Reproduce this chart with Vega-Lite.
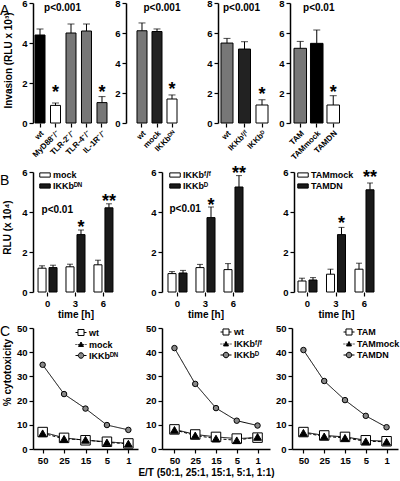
{
  "$schema": "https://vega.github.io/schema/vega-lite/v6.json",
  "padding": {"top": -2, "left": 0, "right": 0, "bottom": 0},
  "autosize": {"type": "pad"},
  "background": "white",
  "spacing": 3,
  "resolve": {
    "scale": {"fill": "independent", "shape": "independent", "size": "independent", "strokeDash": "independent", "xOffset": "independent", "stroke": "independent"},
    "legend": {"fill": "independent", "shape": "independent", "stroke": "independent"}
  },
  "datasets": {
    "a1": [
      {"cat": "wt", "v": 4.4, "hi": 4.7},
      {"cat": "MyD88⁻/⁻", "v": 0.88, "hi": 1.0},
      {"cat": "TLR-2⁻/⁻", "v": 4.5, "hi": 4.95},
      {"cat": "TLR-4⁻/⁻", "v": 4.6, "hi": 4.95},
      {"cat": "IL-1R⁻/⁻", "v": 1.02, "hi": 1.32}
    ],
    "a1n": [{"cat": "MyD88⁻/⁻", "y": 1.7, "label": "*"}, {"cat": "IL-1R⁻/⁻", "y": 1.7, "label": "*"}],
    "a1p": [{"cat": "MyD88⁻/⁻", "y": 5.75, "label": "p<0.001"}],
    "a2": [
      {"cat": "wt", "v": 6.15, "hi": 6.67},
      {"cat": "mock", "v": 6.1, "hi": 6.27},
      {"cat": "IKKbᴰᴺ", "v": 1.6, "hi": 1.87}
    ],
    "a2n": [{"cat": "IKKbᴰᴺ", "y": 2.45, "label": "*"}],
    "a2p": [{"cat": "mock", "y": 7.65, "label": "p<0.001"}],
    "a3": [
      {"cat": "wt", "v": 5.33, "hi": 5.64},
      {"cat": "IKKbᶠ/ᶠ", "v": 4.93, "hi": 5.42},
      {"cat": "IKKbᴰ", "v": 1.2, "hi": 1.55}
    ],
    "a3n": [{"cat": "IKKbᴰ", "y": 2.15, "label": "*"}],
    "a3p": [{"cat": "IKKbᶠ/ᶠ", "y": 7.65, "label": "p<0.001"}],
    "a4": [
      {"cat": "TAM", "v": 4.98, "hi": 5.44},
      {"cat": "TAMmock", "v": 5.31, "hi": 6.2},
      {"cat": "TAMDN", "v": 1.2, "hi": 1.82}
    ],
    "a4n": [{"cat": "TAMDN", "y": 2.3, "label": "*"}],
    "a4p": [{"cat": "TAMmock", "y": 7.65, "label": "p<0.01"}],
    "b1": [
      {"t": "0", "s": "mock", "v": 1.19, "hi": 1.31},
      {"t": "0", "s": "IKKbᴰᴺ", "v": 1.22, "hi": 1.34},
      {"t": "3", "s": "mock", "v": 1.26, "hi": 1.39},
      {"t": "3", "s": "IKKbᴰᴺ", "v": 2.87, "hi": 3.1},
      {"t": "6", "s": "mock", "v": 1.36, "hi": 1.59},
      {"t": "6", "s": "IKKbᴰᴺ", "v": 4.21, "hi": 4.41}
    ],
    "b1n": [{"t": "3", "s": "IKKbᴰᴺ", "y": 3.4, "label": "*"}, {"t": "6", "s": "IKKbᴰᴺ", "y": 4.69, "label": "**"}],
    "b1p": [{"t": "0", "y": 4.08, "label": "p<0.01"}],
    "b2": [
      {"t": "0", "s": "IKKbᶠ/ᶠ", "v": 0.92, "hi": 1.02},
      {"t": "0", "s": "IKKbᴰ", "v": 0.95, "hi": 1.08},
      {"t": "3", "s": "IKKbᶠ/ᶠ", "v": 1.22, "hi": 1.38},
      {"t": "3", "s": "IKKbᴰ", "v": 3.72, "hi": 4.25},
      {"t": "6", "s": "IKKbᶠ/ᶠ", "v": 1.12, "hi": 1.42},
      {"t": "6", "s": "IKKbᴰ", "v": 5.25, "hi": 5.82}
    ],
    "b2n": [{"t": "3", "s": "IKKbᴰ", "y": 4.52, "label": "*"}, {"t": "6", "s": "IKKbᴰ", "y": 6.1, "label": "**"}],
    "b2p": [{"t": "0", "y": 4.15, "label": "p<0.01"}],
    "b3": [
      {"t": "0", "s": "TAMmock", "v": 0.55, "hi": 0.69},
      {"t": "0", "s": "TAMDN", "v": 0.6, "hi": 0.72},
      {"t": "3", "s": "TAMmock", "v": 0.89, "hi": 1.14},
      {"t": "3", "s": "TAMDN", "v": 2.87, "hi": 3.23},
      {"t": "6", "s": "TAMmock", "v": 1.14, "hi": 1.44},
      {"t": "6", "s": "TAMDN", "v": 5.11, "hi": 5.45}
    ],
    "b3n": [{"t": "3", "s": "TAMDN", "y": 3.6, "label": "*"}, {"t": "6", "s": "TAMDN", "y": 5.9, "label": "**"}],
    "c1": [
      {"r": "50", "s": "wt", "v": 7.0}, {"r": "25", "s": "wt", "v": 4.6}, {"r": "15", "s": "wt", "v": 3.6}, {"r": "5", "s": "wt", "v": 3.0}, {"r": "1", "s": "wt", "v": 2.3},
      {"r": "50", "s": "mock", "v": 6.5}, {"r": "25", "s": "mock", "v": 4.2}, {"r": "15", "s": "mock", "v": 3.8}, {"r": "5", "s": "mock", "v": 2.7}, {"r": "1", "s": "mock", "v": 2.2},
      {"r": "50", "s": "IKKbᴰᴺ", "v": 34.8}, {"r": "25", "s": "IKKbᴰᴺ", "v": 22.7}, {"r": "15", "s": "IKKbᴰᴺ", "v": 16.7}, {"r": "5", "s": "IKKbᴰᴺ", "v": 9.9}, {"r": "1", "s": "IKKbᴰᴺ", "v": 7.9}
    ],
    "c2": [
      {"r": "50", "s": "wt", "v": 8.1}, {"r": "25", "s": "wt", "v": 6.0}, {"r": "15", "s": "wt", "v": 5.0}, {"r": "5", "s": "wt", "v": 4.3}, {"r": "1", "s": "wt", "v": 4.7},
      {"r": "50", "s": "IKKbᶠ/ᶠ", "v": 7.9}, {"r": "25", "s": "IKKbᶠ/ᶠ", "v": 5.6}, {"r": "15", "s": "IKKbᶠ/ᶠ", "v": 4.3}, {"r": "5", "s": "IKKbᶠ/ᶠ", "v": 3.6}, {"r": "1", "s": "IKKbᶠ/ᶠ", "v": 5.0},
      {"r": "50", "s": "IKKbᴰ", "v": 41.7}, {"r": "25", "s": "IKKbᴰ", "v": 26.9}, {"r": "15", "s": "IKKbᴰ", "v": 16.9}, {"r": "5", "s": "IKKbᴰ", "v": 11.7}, {"r": "1", "s": "IKKbᴰ", "v": 9.7}
    ],
    "c3": [
      {"r": "50", "s": "TAM", "v": 7.0}, {"r": "25", "s": "TAM", "v": 5.6}, {"r": "15", "s": "TAM", "v": 5.0}, {"r": "5", "s": "TAM", "v": 3.6}, {"r": "1", "s": "TAM", "v": 3.2},
      {"r": "50", "s": "TAMmock", "v": 6.7}, {"r": "25", "s": "TAMmock", "v": 5.2}, {"r": "15", "s": "TAMmock", "v": 4.6}, {"r": "5", "s": "TAMmock", "v": 3.2}, {"r": "1", "s": "TAMmock", "v": 3.0},
      {"r": "50", "s": "TAMDN", "v": 40.9}, {"r": "25", "s": "TAMDN", "v": 28.1}, {"r": "15", "s": "TAMDN", "v": 20.2}, {"r": "5", "s": "TAMDN", "v": 13.7}, {"r": "1", "s": "TAMDN", "v": 9.0}
    ]
  },
  "vconcat": [
    {
      "bounds": "flush",
      "spacing": 16,
      "resolve": {"scale": {"fill": "independent"}, "legend": {"fill": "independent"}},
      "hconcat": [
        {
          "width": 77, "height": 120,
          "title": {"text": "A", "dy": 1, "offset": -19},
          "layer": [
            {"data": {"name": "a1"}, "mark": {"type": "bar", "stroke": "#000", "strokeWidth": 1},
             "encoding": {
               "x": {"field": "cat", "type": "nominal", "title": null, "scale": {"domain": ["wt", "MyD88⁻/⁻", "TLR-2⁻/⁻", "TLR-4⁻/⁻", "IL-1R⁻/⁻"], "range": [0, 76], "paddingInner": 0.355, "paddingOuter": 0.13}, "axis": {"labelAngle": -45, "domain": false, "labelFontSize": 8}},
               "y": {"field": "v", "type": "quantitative", "title": "Invasion (RLU x 10³)", "scale": {"domain": [0, 6]}, "axis": {"values": [0, 2, 4, 6], "tickCount": 4, "labelOverlap": false, "titleY": 57, "titlePadding": 8}},
               "fill": {"field": "cat", "type": "nominal", "scale": {"domain": ["wt", "MyD88⁻/⁻", "TLR-2⁻/⁻", "TLR-4⁻/⁻", "IL-1R⁻/⁻"], "range": ["#000000", "#ffffff", "#777777", "#777777", "#777777"]}, "legend": null}
             }},
            {"data": {"name": "a1"}, "mark": {"type": "rule", "color": "#000", "strokeWidth": 1},
             "encoding": {"x": {"field": "cat", "type": "nominal", "title": null}, "y": {"field": "v", "type": "quantitative", "title": "Invasion (RLU x 10³)"}, "y2": {"field": "hi"}}},
            {"data": {"name": "a1"}, "mark": {"type": "tick", "color": "#000", "size": 7, "thickness": 1},
             "encoding": {"x": {"field": "cat", "type": "nominal", "title": null}, "y": {"field": "hi", "type": "quantitative", "title": "Invasion (RLU x 10³)"}}},
            {"data": {"name": "a1n"}, "mark": {"type": "text", "fontSize": 18, "fontWeight": "bold", "baseline": "middle", "dy": 4},
             "encoding": {"x": {"field": "cat", "type": "nominal", "title": null}, "y": {"field": "y", "type": "quantitative", "title": "Invasion (RLU x 10³)"}, "text": {"field": "label"}}},
            {"data": {"name": "a1p"}, "mark": {"type": "text", "fontSize": 10, "fontWeight": "bold", "baseline": "middle", "dx": 7},
             "encoding": {"x": {"field": "cat", "type": "nominal", "title": null}, "y": {"field": "y", "type": "quantitative", "title": "Invasion (RLU x 10³)"}, "text": {"field": "label"}}}
          ]
        },
        {
          "width": 76, "height": 120,
          "layer": [
            {"data": {"name": "a2"}, "mark": {"type": "bar", "stroke": "#000", "strokeWidth": 1},
             "encoding": {
               "x": {"field": "cat", "type": "nominal", "title": null, "scale": {"domain": ["wt", "mock", "IKKbᴰᴺ"], "range": [0, 62], "paddingInner": 0.333, "paddingOuter": 0.733}, "axis": {"labelAngle": -45, "domain": false, "labelFontSize": 8}},
               "y": {"field": "v", "type": "quantitative", "title": null, "scale": {"domain": [0, 8]}, "axis": {"values": [0, 2, 4, 6, 8], "tickCount": 5, "labelOverlap": false}},
               "fill": {"field": "cat", "type": "nominal", "scale": {"domain": ["wt", "mock", "IKKbᴰᴺ"], "range": ["#777777", "#222222", "#ffffff"]}, "legend": null}
             }},
            {"data": {"name": "a2"}, "mark": {"type": "rule", "color": "#000", "strokeWidth": 1},
             "encoding": {"x": {"field": "cat", "type": "nominal", "title": null}, "y": {"field": "v", "type": "quantitative", "title": null}, "y2": {"field": "hi"}}},
            {"data": {"name": "a2"}, "mark": {"type": "tick", "color": "#000", "size": 7, "thickness": 1},
             "encoding": {"x": {"field": "cat", "type": "nominal", "title": null}, "y": {"field": "hi", "type": "quantitative", "title": null}}},
            {"data": {"name": "a2n"}, "mark": {"type": "text", "fontSize": 18, "fontWeight": "bold", "baseline": "middle", "dy": 4},
             "encoding": {"x": {"field": "cat", "type": "nominal", "title": null}, "y": {"field": "y", "type": "quantitative", "title": null}, "text": {"field": "label"}}},
            {"data": {"name": "a2p"}, "mark": {"type": "text", "fontSize": 10, "fontWeight": "bold", "baseline": "middle", "dx": 5},
             "encoding": {"x": {"field": "cat", "type": "nominal", "title": null}, "y": {"field": "y", "type": "quantitative", "title": null}, "text": {"field": "label"}}}
          ]
        },
        {
          "width": 56, "height": 120,
          "layer": [
            {"data": {"name": "a3"}, "mark": {"type": "bar", "stroke": "#000", "strokeWidth": 1},
             "encoding": {
               "x": {"field": "cat", "type": "nominal", "title": null, "scale": {"domain": ["wt", "IKKbᶠ/ᶠ", "IKKbᴰ"], "range": [0, 53], "paddingInner": 0.314, "paddingOuter": 0.171}, "axis": {"labelAngle": -45, "domain": false, "labelFontSize": 8}},
               "y": {"field": "v", "type": "quantitative", "title": null, "scale": {"domain": [0, 8]}, "axis": {"values": [0, 2, 4, 6, 8], "tickCount": 5, "labelOverlap": false}},
               "fill": {"field": "cat", "type": "nominal", "scale": {"domain": ["wt", "IKKbᶠ/ᶠ", "IKKbᴰ"], "range": ["#777777", "#222222", "#ffffff"]}, "legend": null}
             }},
            {"data": {"name": "a3"}, "mark": {"type": "rule", "color": "#000", "strokeWidth": 1},
             "encoding": {"x": {"field": "cat", "type": "nominal", "title": null}, "y": {"field": "v", "type": "quantitative", "title": null}, "y2": {"field": "hi"}}},
            {"data": {"name": "a3"}, "mark": {"type": "tick", "color": "#000", "size": 7, "thickness": 1},
             "encoding": {"x": {"field": "cat", "type": "nominal", "title": null}, "y": {"field": "hi", "type": "quantitative", "title": null}}},
            {"data": {"name": "a3n"}, "mark": {"type": "text", "fontSize": 18, "fontWeight": "bold", "baseline": "middle", "dy": 4},
             "encoding": {"x": {"field": "cat", "type": "nominal", "title": null}, "y": {"field": "y", "type": "quantitative", "title": null}, "text": {"field": "label"}}},
            {"data": {"name": "a3p"}, "mark": {"type": "text", "fontSize": 10, "fontWeight": "bold", "baseline": "middle", "dx": -3},
             "encoding": {"x": {"field": "cat", "type": "nominal", "title": null}, "y": {"field": "y", "type": "quantitative", "title": null}, "text": {"field": "label"}}}
          ]
        },
        {
          "width": 56, "height": 120,
          "layer": [
            {"data": {"name": "a4"}, "mark": {"type": "bar", "stroke": "#000", "strokeWidth": 1},
             "encoding": {
               "x": {"field": "cat", "type": "nominal", "title": null, "scale": {"domain": ["TAM", "TAMmock", "TAMDN"], "range": [0, 53.5], "paddingInner": 0.24, "paddingOuter": 0.242}, "axis": {"labelAngle": -45, "domain": false, "labelFontSize": 8}},
               "y": {"field": "v", "type": "quantitative", "title": null, "scale": {"domain": [0, 8]}, "axis": {"values": [0, 2, 4, 6, 8], "tickCount": 5, "labelOverlap": false}},
               "fill": {"field": "cat", "type": "nominal", "scale": {"domain": ["TAM", "TAMmock", "TAMDN"], "range": ["#777777", "#000000", "#ffffff"]}, "legend": null}
             }},
            {"data": {"name": "a4"}, "mark": {"type": "rule", "color": "#000", "strokeWidth": 1},
             "encoding": {"x": {"field": "cat", "type": "nominal", "title": null}, "y": {"field": "v", "type": "quantitative", "title": null}, "y2": {"field": "hi"}}},
            {"data": {"name": "a4"}, "mark": {"type": "tick", "color": "#000", "size": 7, "thickness": 1},
             "encoding": {"x": {"field": "cat", "type": "nominal", "title": null}, "y": {"field": "hi", "type": "quantitative", "title": null}}},
            {"data": {"name": "a4n"}, "mark": {"type": "text", "fontSize": 18, "fontWeight": "bold", "baseline": "middle", "dy": 4},
             "encoding": {"x": {"field": "cat", "type": "nominal", "title": null}, "y": {"field": "y", "type": "quantitative", "title": null}, "text": {"field": "label"}}},
            {"data": {"name": "a4p"}, "mark": {"type": "text", "fontSize": 10, "fontWeight": "bold", "baseline": "middle", "dx": 2},
             "encoding": {"x": {"field": "cat", "type": "nominal", "title": null}, "y": {"field": "y", "type": "quantitative", "title": null}, "text": {"field": "label"}}}
          ]
        }
      ]
    },
    {
      "bounds": "flush",
      "spacing": 16,
      "resolve": {"scale": {"fill": "independent", "xOffset": "independent"}, "legend": {"fill": "independent"}},
      "hconcat": [
        {
          "width": 113, "height": 120,
          "title": {"text": "B", "dy": 1, "offset": -20},
          "layer": [
            {"data": {"name": "b1"}, "mark": {"type": "bar", "stroke": "#000", "strokeWidth": 1},
             "encoding": {
               "x": {"field": "t", "type": "ordinal", "title": "time [h]", "scale": {"domain": ["0", "3", "6"], "range": [0, 85], "paddingInner": 0.32, "paddingOuter": 0.18}, "axis": {"labelAngle": 0, "domain": false, "titlePadding": 2}},
               "xOffset": {"field": "s", "type": "nominal", "scale": {"domain": ["mock", "IKKbᴰᴺ"], "paddingInner": 0.27, "paddingOuter": 0}},
               "y": {"field": "v", "type": "quantitative", "title": "RLU (x 10⁴)", "scale": {"domain": [0, 6]}, "axis": {"values": [0, 2, 4, 6], "tickCount": 4, "labelOverlap": false, "titleY": 55, "titlePadding": 9}},
               "fill": {"field": "s", "type": "nominal", "scale": {"domain": ["mock", "IKKbᴰᴺ"], "range": ["#ffffff", "#1a1a1a"]},
                 "legend": {"title": null, "orient": "none", "legendX": 6, "legendY": -3, "symbolType": "M-1,-0.4H1V0.4H-1Z", "symbolSize": 110, "symbolStrokeColor": "#000"}}
             }},
            {"data": {"name": "b1"}, "mark": {"type": "rule", "color": "#000", "strokeWidth": 1},
             "encoding": {"x": {"field": "t", "type": "ordinal", "title": "time [h]"}, "xOffset": {"field": "s", "type": "nominal"}, "y": {"field": "v", "type": "quantitative", "title": "RLU (x 10⁴)"}, "y2": {"field": "hi"}}},
            {"data": {"name": "b1"}, "mark": {"type": "tick", "color": "#000", "size": 6, "thickness": 1},
             "encoding": {"x": {"field": "t", "type": "ordinal", "title": "time [h]"}, "xOffset": {"field": "s", "type": "nominal"}, "y": {"field": "hi", "type": "quantitative", "title": "RLU (x 10⁴)"}}},
            {"data": {"name": "b1n"}, "mark": {"type": "text", "fontSize": 18, "fontWeight": "bold", "baseline": "middle", "dy": 4},
             "encoding": {"x": {"field": "t", "type": "ordinal", "title": "time [h]"}, "xOffset": {"field": "s", "type": "nominal"}, "y": {"field": "y", "type": "quantitative", "title": "RLU (x 10⁴)"}, "text": {"field": "label"}}},
            {"data": {"name": "b1p"}, "mark": {"type": "text", "fontSize": 10, "fontWeight": "bold", "baseline": "middle", "align": "left", "dx": -6},
             "encoding": {"x": {"field": "t", "type": "ordinal", "title": "time [h]"}, "y": {"field": "y", "type": "quantitative", "title": "RLU (x 10⁴)"}, "text": {"field": "label"}}}
          ]
        },
        {
          "width": 116, "height": 120,
          "layer": [
            {"data": {"name": "b2"}, "mark": {"type": "bar", "stroke": "#000", "strokeWidth": 1},
             "encoding": {
               "x": {"field": "t", "type": "ordinal", "title": "time [h]", "scale": {"domain": ["0", "3", "6"], "range": [0, 87], "paddingInner": 0.32, "paddingOuter": 0.214}, "axis": {"labelAngle": 0, "domain": false, "titlePadding": 2}},
               "xOffset": {"field": "s", "type": "nominal", "scale": {"domain": ["IKKbᶠ/ᶠ", "IKKbᴰ"], "paddingInner": 0.27, "paddingOuter": 0}},
               "y": {"field": "v", "type": "quantitative", "title": null, "scale": {"domain": [0, 6]}, "axis": {"values": [0, 2, 4, 6], "tickCount": 4, "labelOverlap": false}},
               "fill": {"field": "s", "type": "nominal", "scale": {"domain": ["IKKbᶠ/ᶠ", "IKKbᴰ"], "range": ["#ffffff", "#1a1a1a"]},
                 "legend": {"title": null, "orient": "none", "legendX": 7, "legendY": -3, "symbolType": "M-1,-0.4H1V0.4H-1Z", "symbolSize": 110, "symbolStrokeColor": "#000"}}
             }},
            {"data": {"name": "b2"}, "mark": {"type": "rule", "color": "#000", "strokeWidth": 1},
             "encoding": {"x": {"field": "t", "type": "ordinal", "title": "time [h]"}, "xOffset": {"field": "s", "type": "nominal"}, "y": {"field": "v", "type": "quantitative", "title": null}, "y2": {"field": "hi"}}},
            {"data": {"name": "b2"}, "mark": {"type": "tick", "color": "#000", "size": 6, "thickness": 1},
             "encoding": {"x": {"field": "t", "type": "ordinal", "title": "time [h]"}, "xOffset": {"field": "s", "type": "nominal"}, "y": {"field": "hi", "type": "quantitative", "title": null}}},
            {"data": {"name": "b2n"}, "mark": {"type": "text", "fontSize": 18, "fontWeight": "bold", "baseline": "middle", "dy": 4},
             "encoding": {"x": {"field": "t", "type": "ordinal", "title": "time [h]"}, "xOffset": {"field": "s", "type": "nominal"}, "y": {"field": "y", "type": "quantitative", "title": null}, "text": {"field": "label"}}},
            {"data": {"name": "b2p"}, "mark": {"type": "text", "fontSize": 10, "fontWeight": "bold", "baseline": "middle", "align": "left", "dx": -8},
             "encoding": {"x": {"field": "t", "type": "ordinal", "title": "time [h]"}, "y": {"field": "y", "type": "quantitative", "title": null}, "text": {"field": "label"}}}
          ]
        },
        {
          "width": 86, "height": 120,
          "layer": [
            {"data": {"name": "b3"}, "mark": {"type": "bar", "stroke": "#000", "strokeWidth": 1},
             "encoding": {
               "x": {"field": "t", "type": "ordinal", "title": "time [h]", "scale": {"domain": ["0", "3", "6"], "range": [0, 84], "paddingInner": 0.333, "paddingOuter": 0.14}, "axis": {"labelAngle": 0, "domain": false, "titlePadding": 2}},
               "xOffset": {"field": "s", "type": "nominal", "scale": {"domain": ["TAMmock", "TAMDN"], "paddingInner": 0.27, "paddingOuter": 0}},
               "y": {"field": "v", "type": "quantitative", "title": null, "scale": {"domain": [0, 6]}, "axis": {"values": [0, 2, 4, 6], "tickCount": 4, "labelOverlap": false}},
               "fill": {"field": "s", "type": "nominal", "scale": {"domain": ["TAMmock", "TAMDN"], "range": ["#ffffff", "#1a1a1a"]},
                 "legend": {"title": null, "orient": "none", "legendX": 3, "legendY": -3, "symbolType": "M-1,-0.4H1V0.4H-1Z", "symbolSize": 110, "symbolStrokeColor": "#000"}}
             }},
            {"data": {"name": "b3"}, "mark": {"type": "rule", "color": "#000", "strokeWidth": 1},
             "encoding": {"x": {"field": "t", "type": "ordinal", "title": "time [h]"}, "xOffset": {"field": "s", "type": "nominal"}, "y": {"field": "v", "type": "quantitative", "title": null}, "y2": {"field": "hi"}}},
            {"data": {"name": "b3"}, "mark": {"type": "tick", "color": "#000", "size": 6, "thickness": 1},
             "encoding": {"x": {"field": "t", "type": "ordinal", "title": "time [h]"}, "xOffset": {"field": "s", "type": "nominal"}, "y": {"field": "hi", "type": "quantitative", "title": null}}},
            {"data": {"name": "b3n"}, "mark": {"type": "text", "fontSize": 18, "fontWeight": "bold", "baseline": "middle", "dy": 4},
             "encoding": {"x": {"field": "t", "type": "ordinal", "title": "time [h]"}, "xOffset": {"field": "s", "type": "nominal"}, "y": {"field": "y", "type": "quantitative", "title": null}, "text": {"field": "label"}}}
          ]
        }
      ]
    },
    {
      "bounds": "flush",
      "spacing": 16,
      "resolve": {"scale": {"fill": "independent", "shape": "independent", "size": "independent", "strokeDash": "independent", "stroke": "independent"}, "legend": {"fill": "independent", "shape": "independent", "stroke": "independent"}},
      "hconcat": [
        {
          "width": 113, "height": 121,
          "title": {"text": "C", "dy": 4, "offset": -12},
          "data": {"name": "c1"},
          "resolve": {"scale": {"shape": "independent", "fill": "independent", "stroke": "independent"}, "legend": {"shape": "independent", "fill": "independent", "stroke": "independent"}},
          "layer": [
            {"mark": {"type": "line", "color": "#000", "strokeWidth": 1},
             "encoding": {
               "x": {"field": "r", "type": "ordinal", "title": null, "scale": {"type": "point", "domain": ["50", "25", "15", "5", "1"], "range": [0, 105], "padding": 0.45}, "axis": {"labelAngle": 0, "domain": true}},
               "y": {"field": "v", "type": "quantitative", "title": "% cytotoxicity", "scale": {"domain": [0, 50]}, "axis": {"values": [0, 10, 20, 30, 40, 50], "tickCount": 6, "labelOverlap": false, "titleY": 44, "titlePadding": 4}},
               "strokeDash": {"field": "s", "type": "nominal", "scale": {"domain": ["wt", "mock", "IKKbᴰᴺ"], "range": [[1, 0], [3, 2], [1, 0]]}, "legend": null}
             }},
            {"mark": {"type": "point", "filled": true, "stroke": "#000", "strokeWidth": 1, "opacity": 1},
             "encoding": {
               "x": {"field": "r", "type": "ordinal", "title": null},
               "y": {"field": "v", "type": "quantitative", "title": "% cytotoxicity"},
               "shape": {"field": "s", "type": "nominal", "scale": {"domain": ["wt", "mock", "IKKbᴰᴺ"], "range": ["square", "triangle-up", "circle"]}, "legend": null},
               "fill": {"field": "s", "type": "nominal", "scale": {"domain": ["wt", "mock", "IKKbᴰᴺ"], "range": ["#ffffff", "#000000", "#888888"]}, "legend": null},
               "size": {"field": "s", "type": "nominal", "scale": {"domain": ["wt", "mock", "IKKbᴰᴺ"], "range": [90, 30, 40]}, "legend": null}
             }},
            {"transform": [{"filter": "datum.v < 0"}],
             "mark": {"type": "point", "filled": true, "strokeWidth": 1, "opacity": 1},
             "encoding": {
               "x": {"field": "r", "type": "ordinal", "title": null},
               "y": {"field": "v", "type": "quantitative", "title": "% cytotoxicity"},
               "stroke": {"field": "s", "type": "nominal", "scale": {"domain": ["wt", "mock", "IKKbᴰᴺ"], "range": ["#000000", "#000000", "#000000"]},
                 "legend": {"title": null, "orient": "none", "legendX": 42, "legendY": -1.5, "symbolSize": 121, "symbolStrokeWidth": 1}},
               "shape": {"field": "s", "type": "nominal", "scale": {"domain": ["wt", "mock", "IKKbᴰᴺ"], "range": ["M-1,0H-0.55M0.55,0H1M-0.55,-0.55H0.55V0.55H-0.55Z", "M-1,0H-0.8M-0.6,0H-0.4M0.4,0H0.6M0.8,0H1M0,-0.45L0.45,0.35H-0.45Z", "M-1,0H-0.5M0.5,0H1M-0.5,0A0.5,0.5,0,1,1,0.5,0A0.5,0.5,0,1,1,-0.5,0Z"]},
                 "legend": {"title": null, "orient": "none", "legendX": 42, "legendY": -1.5, "symbolSize": 121, "symbolStrokeWidth": 1}},
               "fill": {"field": "s", "type": "nominal", "scale": {"domain": ["wt", "mock", "IKKbᴰᴺ"], "range": ["#ffffff", "#000000", "#888888"]},
                 "legend": {"title": null, "orient": "none", "legendX": 42, "legendY": -1.5, "symbolSize": 121, "symbolStrokeWidth": 1}}
             }}
          ]
        },
        {
          "width": 114, "height": 121,
          "data": {"name": "c2"},
          "resolve": {"scale": {"shape": "independent", "fill": "independent", "stroke": "independent"}, "legend": {"shape": "independent", "fill": "independent", "stroke": "independent"}},
          "layer": [
            {"mark": {"type": "line", "color": "#000", "strokeWidth": 1},
             "encoding": {
               "x": {"field": "r", "type": "ordinal", "title": "E/T (50:1, 25:1, 15:1, 5:1, 1:1)", "scale": {"type": "point", "domain": ["50", "25", "15", "5", "1"], "range": [0, 108], "padding": 0.6}, "axis": {"labelAngle": 0, "domain": true, "titleX": 44, "titlePadding": 3}},
               "y": {"field": "v", "type": "quantitative", "title": null, "scale": {"domain": [0, 50]}, "axis": {"values": [0, 10, 20, 30, 40, 50], "tickCount": 6, "labelOverlap": false}},
               "strokeDash": {"field": "s", "type": "nominal", "scale": {"domain": ["wt", "IKKbᶠ/ᶠ", "IKKbᴰ"], "range": [[1, 0], [3, 2], [1, 0]]}, "legend": null}
             }},
            {"mark": {"type": "point", "filled": true, "stroke": "#000", "strokeWidth": 1, "opacity": 1},
             "encoding": {
               "x": {"field": "r", "type": "ordinal", "title": "E/T (50:1, 25:1, 15:1, 5:1, 1:1)"},
               "y": {"field": "v", "type": "quantitative", "title": null},
               "shape": {"field": "s", "type": "nominal", "scale": {"domain": ["wt", "IKKbᶠ/ᶠ", "IKKbᴰ"], "range": ["square", "triangle-up", "circle"]}, "legend": null},
               "fill": {"field": "s", "type": "nominal", "scale": {"domain": ["wt", "IKKbᶠ/ᶠ", "IKKbᴰ"], "range": ["#ffffff", "#000000", "#888888"]}, "legend": null},
               "size": {"field": "s", "type": "nominal", "scale": {"domain": ["wt", "IKKbᶠ/ᶠ", "IKKbᴰ"], "range": [90, 30, 40]}, "legend": null}
             }},
            {"transform": [{"filter": "datum.v < 0"}],
             "mark": {"type": "point", "filled": true, "strokeWidth": 1, "opacity": 1},
             "encoding": {
               "x": {"field": "r", "type": "ordinal", "title": "E/T (50:1, 25:1, 15:1, 5:1, 1:1)"},
               "y": {"field": "v", "type": "quantitative", "title": null},
               "stroke": {"field": "s", "type": "nominal", "scale": {"domain": ["wt", "IKKbᶠ/ᶠ", "IKKbᴰ"], "range": ["#000000", "#000000", "#000000"]},
                 "legend": {"title": null, "orient": "none", "legendX": 58, "legendY": -2, "symbolSize": 121, "symbolStrokeWidth": 1}},
               "shape": {"field": "s", "type": "nominal", "scale": {"domain": ["wt", "IKKbᶠ/ᶠ", "IKKbᴰ"], "range": ["M-1,0H-0.55M0.55,0H1M-0.55,-0.55H0.55V0.55H-0.55Z", "M-1,0H-0.8M-0.6,0H-0.4M0.4,0H0.6M0.8,0H1M0,-0.45L0.45,0.35H-0.45Z", "M-1,0H-0.5M0.5,0H1M-0.5,0A0.5,0.5,0,1,1,0.5,0A0.5,0.5,0,1,1,-0.5,0Z"]},
                 "legend": {"title": null, "orient": "none", "legendX": 58, "legendY": -2, "symbolSize": 121, "symbolStrokeWidth": 1}},
               "fill": {"field": "s", "type": "nominal", "scale": {"domain": ["wt", "IKKbᶠ/ᶠ", "IKKbᴰ"], "range": ["#ffffff", "#000000", "#888888"]},
                 "legend": {"title": null, "orient": "none", "legendX": 58, "legendY": -2, "symbolSize": 121, "symbolStrokeWidth": 1}}
             }}
          ]
        },
        {
          "width": 106, "height": 121,
          "data": {"name": "c3"},
          "resolve": {"scale": {"shape": "independent", "fill": "independent", "stroke": "independent"}, "legend": {"shape": "independent", "fill": "independent", "stroke": "independent"}},
          "layer": [
            {"mark": {"type": "line", "color": "#000", "strokeWidth": 1},
             "encoding": {
               "x": {"field": "r", "type": "ordinal", "title": null, "scale": {"type": "point", "domain": ["50", "25", "15", "5", "1"], "range": [0, 106], "padding": 0.55}, "axis": {"labelAngle": 0, "domain": true}},
               "y": {"field": "v", "type": "quantitative", "title": null, "scale": {"domain": [0, 50]}, "axis": {"values": [0, 10, 20, 30, 40, 50], "tickCount": 6, "labelOverlap": false}},
               "strokeDash": {"field": "s", "type": "nominal", "scale": {"domain": ["TAM", "TAMmock", "TAMDN"], "range": [[1, 0], [3, 2], [1, 0]]}, "legend": null}
             }},
            {"mark": {"type": "point", "filled": true, "stroke": "#000", "strokeWidth": 1, "opacity": 1},
             "encoding": {
               "x": {"field": "r", "type": "ordinal", "title": null},
               "y": {"field": "v", "type": "quantitative", "title": null},
               "shape": {"field": "s", "type": "nominal", "scale": {"domain": ["TAM", "TAMmock", "TAMDN"], "range": ["square", "triangle-up", "circle"]}, "legend": null},
               "fill": {"field": "s", "type": "nominal", "scale": {"domain": ["TAM", "TAMmock", "TAMDN"], "range": ["#ffffff", "#000000", "#888888"]}, "legend": null},
               "size": {"field": "s", "type": "nominal", "scale": {"domain": ["TAM", "TAMmock", "TAMDN"], "range": [90, 30, 40]}, "legend": null}
             }},
            {"transform": [{"filter": "datum.v < 0"}],
             "mark": {"type": "point", "filled": true, "strokeWidth": 1, "opacity": 1},
             "encoding": {
               "x": {"field": "r", "type": "ordinal", "title": null},
               "y": {"field": "v", "type": "quantitative", "title": null},
               "stroke": {"field": "s", "type": "nominal", "scale": {"domain": ["TAM", "TAMmock", "TAMDN"], "range": ["#000000", "#000000", "#000000"]},
                 "legend": {"title": null, "orient": "none", "legendX": 51, "legendY": -2, "symbolSize": 121, "symbolStrokeWidth": 1}},
               "shape": {"field": "s", "type": "nominal", "scale": {"domain": ["TAM", "TAMmock", "TAMDN"], "range": ["M-1,0H-0.55M0.55,0H1M-0.55,-0.55H0.55V0.55H-0.55Z", "M-1,0H-0.8M-0.6,0H-0.4M0.4,0H0.6M0.8,0H1M0,-0.45L0.45,0.35H-0.45Z", "M-1,0H-0.5M0.5,0H1M-0.5,0A0.5,0.5,0,1,1,0.5,0A0.5,0.5,0,1,1,-0.5,0Z"]},
                 "legend": {"title": null, "orient": "none", "legendX": 51, "legendY": -2, "symbolSize": 121, "symbolStrokeWidth": 1}},
               "fill": {"field": "s", "type": "nominal", "scale": {"domain": ["TAM", "TAMmock", "TAMDN"], "range": ["#ffffff", "#000000", "#888888"]},
                 "legend": {"title": null, "orient": "none", "legendX": 51, "legendY": -2, "symbolSize": 121, "symbolStrokeWidth": 1}}
             }}
          ]
        }
      ]
    }
  ],
  "config": {
    "font": "Liberation Sans",
    "view": {"stroke": null},
    "axis": {
      "labelFont": "Liberation Sans", "labelFontSize": 9.5, "labelFontWeight": "bold", "labelColor": "#000",
      "titleFont": "Liberation Sans", "titleFontSize": 10, "titleFontWeight": "bold", "titleColor": "#000",
      "domainColor": "#000", "domainWidth": 1.5, "tickColor": "#000", "tickWidth": 1.2, "tickSize": 4,
      "labelPadding": 2, "grid": false, "labelOverlap": false, "labelFlush": false
    },
    "legend": {
      "labelFont": "Liberation Sans", "labelFontSize": 9, "labelFontWeight": "bold", "labelColor": "#000",
      "symbolStrokeColor": "#000", "symbolStrokeWidth": 1, "labelOffset": 2, "rowPadding": 0, "padding": 0
    },
    "title": {
      "font": "Liberation Sans", "fontSize": 14, "fontWeight": "normal", "color": "#000",
      "anchor": "start", "frame": "group", "baseline": "top", "dx": -33
    }
  }
}
